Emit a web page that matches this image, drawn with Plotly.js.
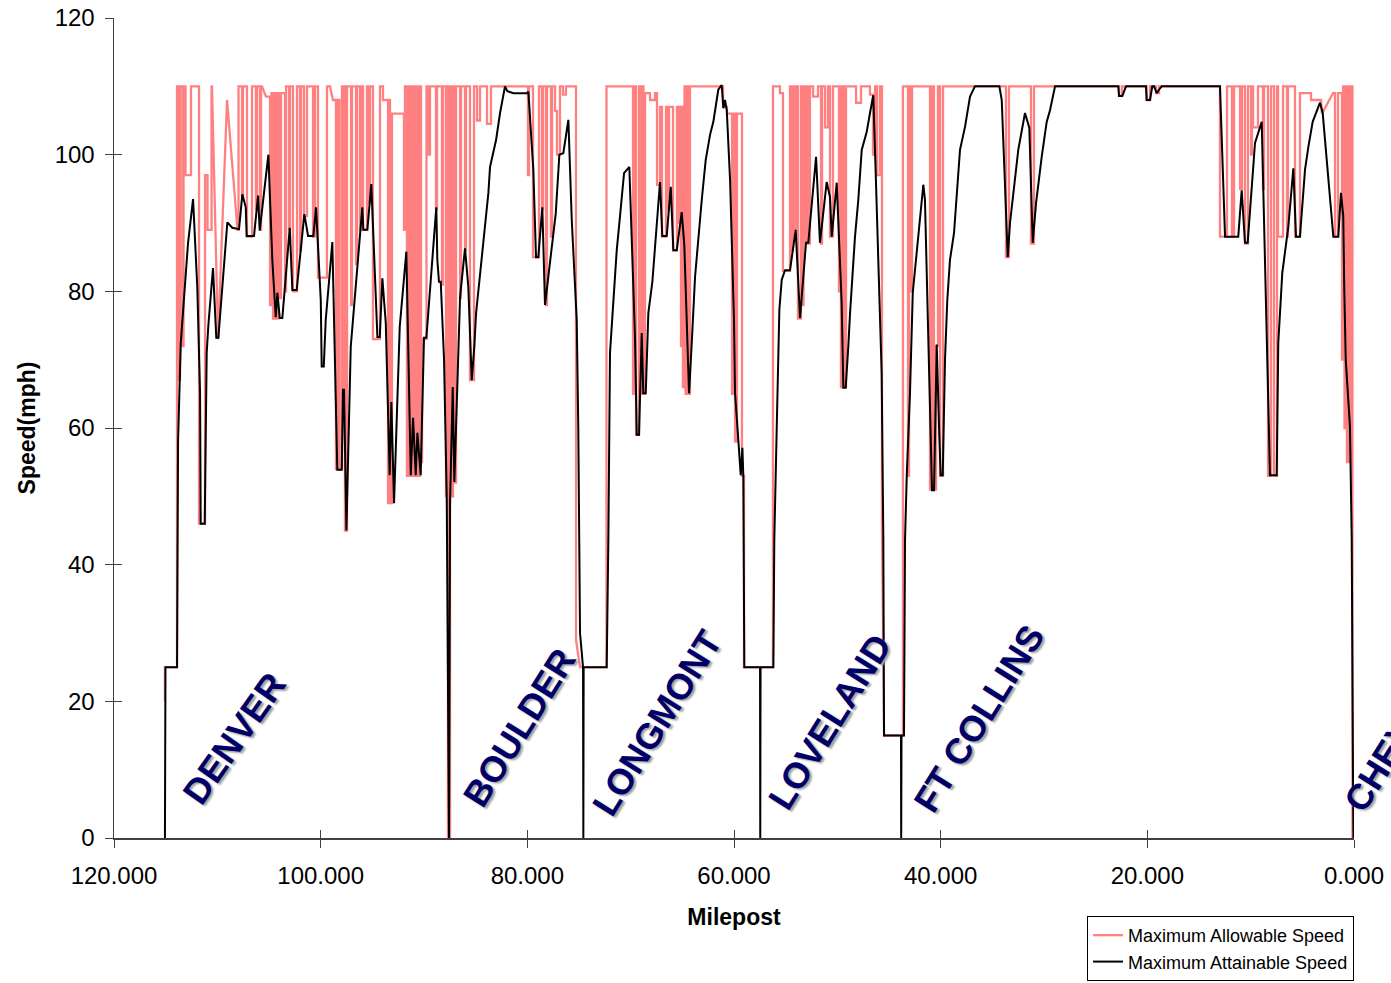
<!DOCTYPE html>
<html>
<head>
<meta charset="utf-8">
<script src="https://cdn.plot.ly/plotly-3.0.1.min.js"></script>
<style>
  html, body { margin: 0; padding: 0; background: #fff; }
  #chart { width: 1391px; height: 983px; }
</style>
</head>
<body>
<div id="chart"></div>
<script>
// Maximum Allowable Speed: [milepost, mph]
const allowable = [
[115.07,20],[115.07,25],[113.90,25],[113.90,110],[113.71,110],[113.71,67],[113.61,67],[113.61,110],
[113.37,110],[113.37,72],[113.27,72],[113.27,110],[113.08,110],[113.08,97],[112.55,97],[112.55,110],
[111.77,110],[111.77,46],[111.19,46],[111.19,97],[110.95,97],[110.95,89],[110.56,89],[110.56,110],
[110.52,110],[109.93,73],[109.06,108],[108.05,89],[107.95,89],[107.95,110],[107.61,110],[107.61,94],
[107.52,94],[107.52,110],[107.13,110],[107.13,88],[106.64,88],[106.64,110],[106.26,110],[106.26,92],
[106.16,92],[106.16,110],[105.87,110],[105.87,89],[105.77,89],[105.77,110],[105.68,110],[105.29,108.5],
[105.10,108.5],[104.90,108.5],[104.90,78],[104.76,78],[104.76,109],[104.61,109],[104.61,76],[104.47,76],
[104.47,109],[104.32,109],[104.32,76],[104.13,76],[104.13,109],[103.93,109],[103.93,79],[103.84,79],
[103.84,109],[103.45,109],[103.45,80],[103.35,80],[103.35,110],[103.06,110],[103.06,89],[102.97,89],
[102.97,110],[102.68,110],[102.68,80],[102.29,80],[102.29,110],[102.00,110],[102.00,86],[101.90,86],
[101.90,110],[101.61,110],[101.61,91],[101.32,91],[101.32,110],[100.74,110],[100.74,88],[100.55,88],
[100.55,110],[100.26,110],[100.26,82],[99.39,82],[99.39,110],[99.10,110],[98.81,108],[98.52,108],
[98.52,54],[98.32,54],[98.32,108],[98.18,108],[98.18,54],[97.94,54],[97.94,110],[97.84,110],
[97.84,65],[97.74,65],[97.74,110],[97.65,110],[97.65,45],[97.45,45],[97.45,110],[97.06,110],
[97.06,78],[96.97,78],[96.97,110],[96.58,110],[96.58,84],[96.48,84],[96.48,110],[96.19,110],
[96.19,89],[96.05,89],[96.05,110],[95.90,110],[95.90,89],[95.52,89],[95.52,110],[95.32,110],
[95.32,93],[95.23,93],[95.23,110],[94.94,110],[94.94,73],[94.26,73],[94.26,110],[93.97,110],
[93.97,108],[93.48,108],[93.48,49],[93.39,49],[93.39,108],[93.29,108],[93.29,49],[93.10,49],
[93.10,106],[91.94,106],[91.94,89],[91.84,89],[91.84,110],[91.65,110],[91.65,53],[91.50,53],
[91.50,110],[91.40,110],[91.40,53],[91.26,53],[91.26,110],[91.16,110],[91.16,53],[90.97,53],
[90.97,110],[90.87,110],[90.87,53],[90.68,53],[90.68,110],[90.58,110],[90.58,53],[90.39,53],
[90.39,110],[90.29,110],[90.29,55],[90.19,55],[90.19,73],[89.76,73],[89.76,110],[89.61,110],
[89.61,100],[89.42,100],[89.42,110],[88.84,110],[88.84,92],[88.74,92],[88.74,110],[88.26,110],
[88.26,81],[88.16,81],[88.16,110],[87.87,110],[87.87,50],[87.77,50],[87.77,110],[87.68,110],
[87.68,0],[87.48,0],[87.48,110],[87.29,110],[87.29,50],[87.19,50],[87.19,110],[87.00,110],
[87.00,52],[86.90,52],[86.90,110],[86.51,110],[86.51,79],[86.42,79],[86.42,110],[86.03,110],
[86.03,86],[85.94,86],[85.94,110],[85.55,110],[85.55,67],[85.16,67],[85.16,110],[84.87,110],
[84.87,105],[84.58,105],[84.58,110],[83.90,110],[83.90,104.5],[83.52,104.5],[83.52,110],[79.94,110],
[79.94,97],[79.84,97],[79.84,110],[79.45,110],[79.45,85],[78.87,85],[78.87,110],[78.58,110],
[78.58,92],[78.48,92],[78.48,110],[78.19,110],[78.19,78],[78.10,78],[78.10,110],[77.71,110],
[77.71,88],[77.61,88],[77.61,110],[77.32,110],[77.32,106.4],[77.13,106.4],[77.13,100],[76.84,100],
[76.84,110],[76.55,110],[76.55,108.8],[76.26,108.8],[76.26,110],[75.29,110],[75.29,29],[74.90,25],
[72.34,25],[72.34,110],[69.77,110],[69.77,65],[69.68,65],[69.68,110],[69.48,110],[69.48,59],
[69.19,59],[69.19,110],[69.00,110],[69.00,65],[68.90,65],[68.90,110],[68.76,110],[68.76,65],
[68.61,65],[68.61,109],[68.13,109],[68.13,108],[67.64,108],[67.64,109],[67.45,109],[67.45,95.6],
[67.16,95.6],[67.16,107],[66.97,107],[66.97,88],[66.58,88],[66.58,107],[66.39,107],[66.39,92],
[66.29,92],[66.29,107],[65.90,107],[65.90,86],[65.52,86],[65.52,107],[65.32,107],[65.32,90],
[65.23,90],[65.23,107],[65.13,107],[65.13,72],[65.03,72],[65.03,107],[64.94,107],[64.94,66],
[64.79,66],[64.79,110],[64.69,110],[64.69,65],[64.55,65],[64.55,110],[64.45,110],[64.45,65],
[64.26,65],[64.26,110],[61.06,110],[61.06,107],[60.68,107],[60.68,106],[60.19,106],[60.19,65],
[60.10,65],[60.10,106],[59.90,106],[59.90,58],[59.71,58],[59.71,106],[59.23,106],[59.23,53],
[59.03,53],[59.03,25],[56.23,25],[56.23,110],[55.55,110],[55.55,109],[55.26,109],[55.26,83],
[54.58,83],[54.58,110],[54.39,110],[54.39,86],[54.29,86],[54.29,110],[54.10,110],[54.10,89],
[53.95,89],[53.95,110],[53.81,110],[53.81,76],[53.52,76],[53.52,110],[53.42,110],[53.42,78],
[53.27,78],[53.27,110],[53.13,110],[53.13,87],[52.98,87],[52.98,110],[52.84,110],[52.84,87],
[52.65,87],[52.65,110],[52.35,110],[52.35,108.5],[51.87,108.5],[51.87,110],[51.58,110],[51.58,87],
[51.48,87],[51.48,110],[51.19,110],[51.19,104],[50.90,104],[50.90,110],[50.71,110],[50.71,88],
[50.42,88],[50.42,110],[49.84,110],[49.84,80],[49.74,80],[49.74,110],[49.65,110],[49.65,66],
[49.45,66],[49.45,110],[49.35,110],[49.35,66],[49.16,66],[49.16,110],[48.19,110],[48.19,107.6],
[47.71,107.6],[47.71,110],[46.84,110],[46.84,108.8],[46.55,108.8],[46.55,100],[46.35,100],[46.35,110],
[46.16,110],[46.16,97],[45.87,97],[45.87,110],[45.68,110],[45.68,46],[45.48,15],[43.65,15],
[43.65,110],[43.16,110],[43.16,53],[43.06,53],[43.06,110],[42.87,110],[42.87,80],[42.77,80],
[42.77,110],[41.03,110],[41.03,51],[40.84,51],[40.84,110],[40.65,110],[40.65,51],[40.45,51],
[40.45,72],[40.26,72],[40.26,110],[40.06,110],[40.06,53],[39.77,53],[39.77,110],[33.68,110],
[33.68,85],[33.39,85],[33.39,110],[31.26,110],[31.26,87],[30.97,87],[30.97,110],[22.74,110],
[22.74,108.6],[22.45,108.6],[22.45,110],[20.08,110],[20.08,108],[19.74,108],[19.74,110],[19.16,110],
[19.16,109],[18.87,109],[18.87,110],[12.97,110],[12.97,88],[12.29,88],[12.29,110],[11.81,110],
[11.81,88],[11.61,88],[11.61,110],[11.03,110],[11.03,95],[10.84,95],[10.84,110],[10.55,110],
[10.55,87],[10.26,87],[10.26,110],[9.97,110],[9.97,100],[9.87,100],[9.87,110],[9.77,110],
[9.77,104],[9.29,104],[9.29,110],[8.81,110],[8.81,95],[8.71,95],[8.71,110],[8.32,110],
[8.32,53],[8.03,53],[8.03,110],[7.74,110],[7.74,53],[7.45,53],[7.45,110],[7.35,110],
[7.35,88],[6.87,88],[6.87,110],[6.48,110],[6.48,88],[6.39,88],[6.39,110],[5.71,110],
[5.71,88],[5.23,88],[5.23,109],[4.16,109],[4.16,108],[3.19,108],[3.10,106],[2.03,109],
[1.84,109],[1.84,88],[1.55,88],[1.55,109],[1.16,109],[1.16,70],[1.06,70],[1.06,110],
[0.92,110],[0.92,60],[0.82,60],[0.82,110],[0.68,110],[0.68,55],[0.58,55],[0.58,110],
[0.39,110],[0.39,55],[0.29,55],[0.29,110],[0.15,110],[0.15,0]
];

// Maximum Attainable Speed: [milepost, mph]
const attainable = [
[115.07,0],[115.02,25],[113.90,25],[113.80,58],[113.54,72.4],[113.22,78.7],[112.84,87],[112.35,93.5],
[111.94,80.6],[111.67,65],[111.61,46],[111.22,46],[111.03,71],[110.87,75],[110.42,83.4],[110.10,73.2],
[109.90,73.2],[109.03,90.1],[108.55,89.3],[107.90,89.1],[107.58,94.2],[107.25,92.3],[107.16,88.1],[106.45,88.1],
[106.06,94],[105.90,88.9],[105.06,100],[104.68,84.6],[104.35,76.2],[104.19,79.8],[103.96,76.1],[103.71,76.1],
[102.99,89.3],[102.74,80.2],[102.32,80.2],[101.58,91.3],[101.22,88.1],[100.71,88.1],[100.45,92.3],[99.99,78.7],
[99.90,69],[99.70,69],[99.51,75.8],[98.87,87.2],[98.39,53.9],[97.96,53.9],[97.84,65.6],[97.74,65.6],
[97.51,45],[97.09,71.9],[95.97,92.3],[95.87,89],[95.48,89],[95.10,95.7],[94.51,73.3],[94.28,73.3],
[94.03,81.9],[93.70,75.4],[93.32,53.1],[93.16,63.8],[92.90,49],[92.35,74.8],[91.71,85.8],[91.28,53.1],
[91.06,61.5],[90.80,53.1],[90.64,59.3],[90.32,53.1],[90.00,73.2],[89.77,73.2],[88.81,92.3],[88.71,84.6],
[88.55,81.4],[88.38,81.4],[88.06,70],[87.80,49.9],[87.63,20],[87.58,0],[87.48,49],[87.22,66],
[87.06,52.1],[86.68,71.4],[86.51,79.2],[86.03,86.3],[85.71,80.6],[85.38,67],[85.13,71.9],[84.96,76.8],
[84.26,87.5],[83.77,94.4],[83.61,98.2],[83.03,102.1],[82.64,106.1],[82.16,110],[81.94,109.3],[81.35,109],
[80.06,109],[79.90,109.2],[79.42,97.8],[79.16,85],[78.94,85],[78.55,92.3],[78.29,78],[77.97,82.1],
[77.54,88.5],[77.25,91.4],[76.90,100],[76.52,100.2],[76.03,105.1],[75.70,90.4],[75.22,75.8],[75.07,60.2],
[74.90,30],[74.61,25],[74.58,0],[74.55,25],[72.32,25],[72.16,43.6],[72.00,71],[71.35,86],
[71.03,91],[70.64,97.3],[70.13,98.2],[69.99,91.9],[69.58,73.3],[69.41,59],[69.19,59],[68.93,73.9],
[68.78,65.1],[68.54,65.1],[68.29,76.8],[67.90,81.4],[67.48,90.4],[67.16,96],[66.94,88.1],[66.51,88.1],
[66.12,95.3],[65.87,86],[65.54,86],[65.06,91.6],[64.81,86.8],[64.58,74.8],[64.35,65.1],[64.09,72.4],
[63.77,82.1],[63.12,93.4],[62.74,99.2],[62.32,102.9],[62.00,104.8],[61.52,109.5],[61.19,110.2],[61.03,106.8],
[60.87,108],[60.70,106.5],[60.38,96.3],[60.00,75.8],[59.90,65.1],[59.58,58.2],[59.35,53.1],[59.19,57.1],
[59.10,53.1],[59.00,25],[57.48,25],[57.46,0],[57.43,25],[56.19,25],[56.10,43.6],[55.87,59.7],
[55.77,67.5],[55.61,77.3],[55.38,81.7],[55.06,83.1],[54.58,83.1],[54.03,89],[53.61,76.1],[53.29,82.7],
[53.03,87.1],[52.81,87.1],[52.06,99.7],[51.68,87.1],[51.03,96],[50.71,93.8],[50.54,88],[50.06,95.9],
[49.58,78.3],[49.42,65.9],[49.19,65.9],[48.94,71.9],[48.77,76.8],[48.29,88],[47.97,93.4],[47.64,100.7],
[47.16,103.3],[46.84,106.1],[46.52,108.7],[46.26,96],[46.03,84.6],[45.71,68],[45.55,44],[45.48,15],
[43.84,15],[43.82,0],[43.79,15],[43.55,15],[43.45,43.6],[43.28,53.1],[42.97,65.1],[42.70,79.8],
[42.48,83.1],[42.09,89.4],[41.68,95.6],[41.52,93.4],[41.13,68],[40.84,50.9],[40.64,50.9],[40.38,72.2],
[40.16,60.2],[40.00,53.1],[39.80,53.1],[39.58,70],[39.36,78.7],[39.10,84.6],[38.71,88.5],[38.13,100.7],
[37.64,104.1],[37.16,108.5],[36.68,110],[34.32,110],[34.09,108],[33.87,99.2],[33.51,85],[33.29,90],
[32.80,96.3],[32.49,100.7],[31.84,106.1],[31.42,103.9],[31.09,87.1],[30.77,92.9],[30.22,99.7],[29.74,104.8],
[29.42,106.5],[28.93,110],[22.81,110],[22.74,108.6],[22.42,108.6],[22.06,110],[20.13,110],[20.06,108],
[19.74,108],[19.52,110],[19.35,110],[19.09,109],[18.87,109.5],[18.61,110],[12.97,110],[12.48,88],
[12.00,88],[11.20,88],[10.87,94.8],[10.55,87.1],[10.29,87.1],[9.58,101.7],[8.93,104.8],[8.13,53.1],
[7.48,53.1],[7.33,72.4],[6.94,82.7],[6.36,89.4],[5.87,98],[5.61,88],[5.23,88],[4.74,97.8],
[4.42,101.1],[4.00,104.8],[3.29,107.6],[3.03,106.1],[2.00,88],[1.52,88],[1.26,94.4],[1.04,91],
[0.94,80.2],[0.80,70],[0.39,60.2],[0.22,43.6],[0.10,10],[0.05,0]
];

// City labels (milepost, mph position of label centre)
const cityNames = ["DENVER", "BOULDER", "LONGMONT", "LOVELAND", "FT COLLINS", "CHEYENNE"];
const cityMile  = [108.4, 80.8, 67.5, 50.7, 36.3, -5.0];
const citySpeed = [14.6, 16.2, 16.8, 17.0, 17.5, 16.8];
const cityAngle = [-55, -58, -58, -58, -58, -58];

const xTicks = [120, 100, 80, 60, 40, 20, 0];
const yTicks = [0, 20, 40, 60, 80, 100, 120];
const X_MAX = 120, X_MIN = 0;

const FONT = "Liberation Sans, Arial, sans-serif";

const traces = [
  {
    x: allowable.map(p => p[0]), y: allowable.map(p => p[1]),
    type: "scatter", mode: "lines", name: "Maximum Allowable Speed",
    line: { color: "#ff8080", width: 2.3 }
  },
  {
    x: attainable.map(p => p[0]), y: attainable.map(p => p[1]),
    type: "scatter", mode: "lines", name: "Maximum Attainable Speed",
    line: { color: "#000000", width: 2 }
  },
  { x: [], y: [], xaxis: "x2", yaxis: "y2", showlegend: false, hoverinfo: "skip" }
];

// x in paper units via the (reversed) milepost scale, so labels beyond 0 still show
const annotations = cityNames.map((n, i) => ({
  x: (X_MAX - cityMile[i]) / (X_MAX - X_MIN), y: citySpeed[i], xref: "paper", yref: "y",
  text: n, showarrow: false, textangle: cityAngle[i],
  xanchor: "center", yanchor: "middle",
  font: { family: FONT, size: 36, color: "#000066", weight: "bold",
          shadow: "0px 3px 2px #a0a0a0" }
}));

const layout = {
  width: 1391, height: 983,
  margin: { l: 114, r: 37, t: 18, b: 145, autoexpand: false },
  paper_bgcolor: "#ffffff", plot_bgcolor: "#ffffff",
  font: { family: FONT, color: "#000" },
  showlegend: true,
  legend: {
    x: 0.7847, y: -0.0951, xanchor: "left", yanchor: "top",
    bgcolor: "#ffffff", bordercolor: "#000000", borderwidth: 1,
    font: { family: FONT, size: 18, color: "#000" },
    tracegroupgap: 0
  },
  xaxis: {
    range: [X_MAX, X_MIN], tickvals: xTicks, tickformat: ".3f",
    ticks: "outside", ticklen: 8, tickcolor: "#404040", tickwidth: 1,
    showline: true, linecolor: "#404040", linewidth: 1.5,
    showgrid: false, zeroline: false, mirror: false, automargin: false,
    tickfont: { family: FONT, size: 24, color: "#000" },
    ticklabelstandoff: 8,
    title: { text: "Milepost", font: { family: FONT, size: 23, color: "#000", weight: "bold" }, standoff: 20 }
  },
  yaxis: {
    range: [0, 120], tickvals: yTicks,
    ticks: "outside", ticklen: 8, tickcolor: "#404040", tickwidth: 1,
    showline: true, linecolor: "#404040", linewidth: 1.5,
    showgrid: false, zeroline: false, mirror: false, automargin: false,
    tickfont: { family: FONT, size: 24, color: "#000" },
    ticklabelstandoff: 5,
    title: { text: "Speed(mph)", font: { family: FONT, size: 23, color: "#000", weight: "bold" }, standoff: 12 }
  },
  xaxis2: {
    overlaying: "x", anchor: "y2", side: "bottom", range: [X_MAX, X_MIN], tickvals: xTicks,
    ticks: "inside", ticklen: 8, tickcolor: "#404040", tickwidth: 1,
    showticklabels: false, showline: false, showgrid: false, zeroline: false
  },
  yaxis2: {
    overlaying: "y", anchor: "x2", side: "left", range: [0, 120], tickvals: yTicks,
    ticks: "inside", ticklen: 8, tickcolor: "#404040", tickwidth: 1,
    showticklabels: false, showline: false, showgrid: false, zeroline: false
  },
  annotations: annotations
};

Plotly.newPlot("chart", traces, layout, { staticPlot: true, displayModeBar: false });
</script>
</body>
</html>
